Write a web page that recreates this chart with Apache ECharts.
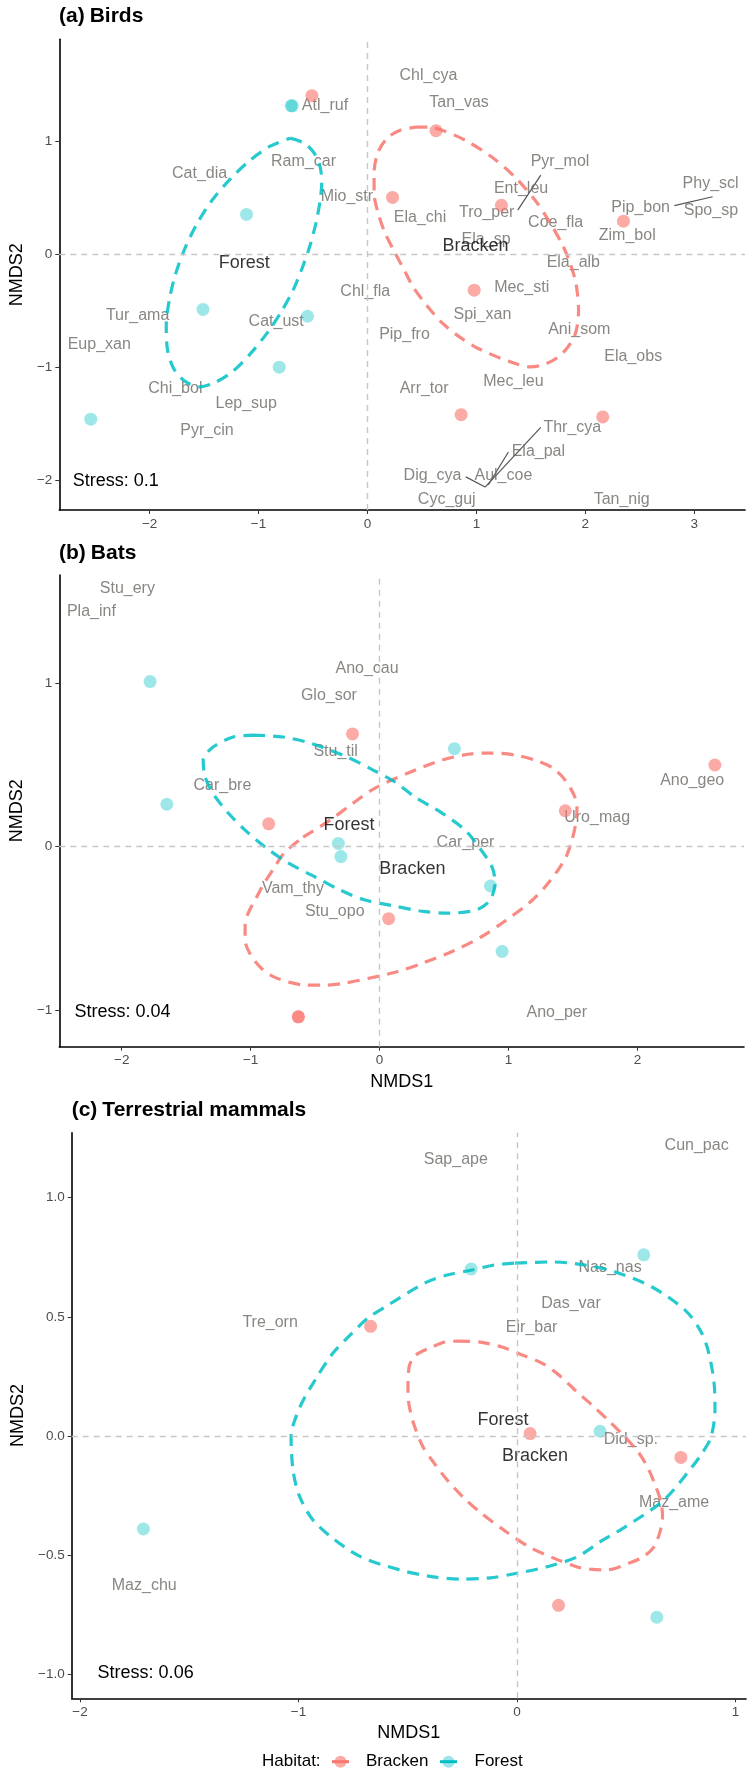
<!DOCTYPE html>
<html><head><meta charset="utf-8">
<script src="https://cdn.jsdelivr.net/npm/echarts@6/dist/echarts.min.js"></script>
<style>html,body{margin:0;padding:0;background:#fff}#c{width:750px;height:1773px}</style>
</head><body><div id="c"></div><script>
const FONT = '"Liberation Sans", Arial, Helvetica, sans-serif';
const COL = { Bracken: '#F8766D', Forest: '#00BFC4' };

// ---------- (a) Birds ----------
const birdsForest = [[-0.69,1.31],[-0.70,1.31],[-1.11,0.35],[-1.51,-0.49],[-0.55,-0.55],[-0.81,-1.00],[-2.54,-1.46]];
const birdsBracken = [[-0.51,1.40],[0.63,1.09],[0.23,0.50],[1.23,0.43],[2.35,0.29],[0.98,-0.32],[0.86,-1.42],[2.16,-1.44]];
const birdsEllForest = [[-0.709,1.024],[-0.581,0.980],[-0.489,0.891],[-0.434,0.768],[-0.420,0.627],[-0.434,0.477],[-0.471,0.282],[-0.526,0.079],[-0.599,-0.124],[-0.682,-0.318],[-0.792,-0.512],[-0.920,-0.697],[-1.076,-0.883],[-1.241,-1.041],[-1.407,-1.139],[-1.544,-1.174],[-1.682,-1.121],[-1.783,-1.006],[-1.838,-0.830],[-1.847,-0.627],[-1.819,-0.406],[-1.764,-0.185],[-1.682,0.035],[-1.572,0.256],[-1.425,0.477],[-1.260,0.662],[-1.076,0.830],[-0.893,0.953]];
const birdsEllBracken = [[0.438,1.121],[0.566,1.121],[0.686,1.094],[0.897,1.006],[1.144,0.856],[1.355,0.679],[1.538,0.477],[1.667,0.291],[1.786,0.088],[1.860,-0.079],[1.915,-0.265],[1.938,-0.494],[1.905,-0.715],[1.786,-0.883],[1.639,-0.971],[1.493,-0.997],[1.310,-0.953],[1.126,-0.883],[0.988,-0.821],[0.832,-0.724],[0.686,-0.609],[0.548,-0.459],[0.419,-0.291],[0.337,-0.141],[0.254,0.009],[0.162,0.185],[0.098,0.362],[0.061,0.538],[0.061,0.724],[0.098,0.900],[0.181,1.024],[0.300,1.094]];
const birdsSpecies = [['Atl_ruf',-0.39,1.315],['Ram_car',-0.587,0.821],['Cat_dia',-1.541,0.712],['Mio_str',-0.189,0.506],['Chl_cya',0.56,1.58],['Tan_vas',0.841,1.335],['Pyr_mol',1.768,0.815],['Ent_leu',1.41,0.574],['Phy_scl',3.15,0.624],['Ela_chi',0.483,0.324],['Tro_per',1.095,0.368],['Coe_fla',1.728,0.28],['Pip_bon',2.508,0.412],['Spo_sp',3.153,0.382],['Zim_bol',2.385,0.162],['Ela_sp',1.089,0.13],['Ela_alb',1.89,-0.077],['Chl_fla',-0.02,-0.334],['Mec_sti',1.416,-0.294],['Spi_xan',1.055,-0.532],['Pip_fro',0.34,-0.709],['Ani_som',1.945,-0.671],['Ela_obs',2.44,-0.906],['Mec_leu',1.34,-1.127],['Arr_tor',0.52,-1.19],['Thr_cya',1.881,-1.533],['Ela_pal',1.569,-1.745],['Dig_cya',0.597,-1.957],['Aul_coe',1.248,-1.957],['Cyc_guj',0.728,-2.171],['Tan_nig',2.334,-2.171],['Tur_ama',-2.11,-0.547],['Cat_ust',-0.838,-0.597],['Eup_xan',-2.462,-0.797],['Chi_bol',-1.764,-1.193],['Lep_sup',-1.113,-1.326],['Pyr_cin',-1.473,-1.562]];
const birdsSegments = [[[1.38,0.388],[1.591,0.697]],[[2.817,0.427],[3.169,0.506]],[[0.903,-1.97],[1.08,-2.06]],[[1.08,-2.06],[1.591,-1.533]],[[1.11,-2.04],[1.294,-1.75]]];
const birdsXTicks = [-2,-1,0,1,2,3];
const birdsYTicks = [-2,-1,0,1];

// ---------- (b) Bats ----------
const batsForest = [[-1.78,1.01],[-1.65,0.26],[0.58,0.60],[-0.32,0.02],[-0.30,-0.06],[0.86,-0.24],[0.95,-0.64]];
const batsBracken = [[-0.86,0.14],[-0.21,0.69],[2.60,0.50],[1.44,0.22],[0.07,-0.44],[-0.63,-1.04],[-0.63,-1.04]];
const batsEllForest = [[-0.981,0.683],[-0.748,0.671],[-0.539,0.634],[-0.252,0.549],[-0.050,0.469],[0.120,0.396],[0.275,0.304],[0.484,0.206],[0.663,0.102],[0.787,-0.020],[0.872,-0.124],[0.895,-0.216],[0.857,-0.326],[0.748,-0.387],[0.523,-0.406],[0.314,-0.393],[0.120,-0.363],[-0.112,-0.326],[-0.306,-0.265],[-0.500,-0.185],[-0.709,-0.099],[-0.888,-0.002],[-1.043,0.102],[-1.174,0.206],[-1.283,0.316],[-1.353,0.426],[-1.368,0.530],[-1.291,0.610],[-1.136,0.671]];
const batsEllBracken = [[-0.593,0.059],[-0.384,0.163],[-0.205,0.267],[-0.035,0.359],[0.221,0.451],[0.484,0.530],[0.702,0.567],[0.872,0.573],[1.050,0.561],[1.205,0.530],[1.345,0.481],[1.438,0.408],[1.508,0.316],[1.531,0.243],[1.523,0.151],[1.492,0.041],[1.446,-0.063],[1.384,-0.142],[1.283,-0.246],[1.159,-0.344],[0.973,-0.454],[0.787,-0.552],[0.570,-0.638],[0.337,-0.711],[0.128,-0.766],[-0.074,-0.803],[-0.267,-0.834],[-0.407,-0.846],[-0.578,-0.846],[-0.702,-0.828],[-0.833,-0.791],[-0.926,-0.736],[-1.004,-0.656],[-1.043,-0.571],[-1.043,-0.479],[-1.019,-0.406],[-0.957,-0.314],[-0.895,-0.222],[-0.818,-0.130],[-0.740,-0.038]];
const batsSpecies = [['Stu_ery',-1.956,1.581],['Pla_inf',-2.235,1.437],['Ano_cau',-0.097,1.091],['Glo_sor',-0.393,0.922],['Stu_til',-0.341,0.581],['Car_bre',-1.219,0.373],['Ano_geo',2.424,0.404],['Uro_mag',1.687,0.177],['Car_per',0.666,0.025],['Vam_thy',-0.672,-0.255],['Stu_opo',-0.348,-0.398],['Ano_per',1.374,-1.015]];
const batsXTicks = [-2,-1,0,1,2];
const batsYTicks = [-1,0,1];

// ---------- (c) Terrestrial mammals ----------
const mamForest = [[-0.21,0.70],[0.58,0.76],[0.38,0.02],[-1.71,-0.39],[0.64,-0.76]];
const mamBracken = [[-0.67,0.46],[0.06,0.01],[0.75,-0.09],[0.19,-0.71]];
const mamEllForest = [[-0.009,0.725],[0.160,0.730],[0.311,0.717],[0.449,0.688],[0.618,0.625],[0.769,0.528],[0.838,0.444],[0.874,0.361],[0.902,0.222],[0.906,0.109],[0.888,-0.004],[0.851,-0.067],[0.801,-0.130],[0.673,-0.268],[0.494,-0.382],[0.380,-0.444],[0.275,-0.507],[0.151,-0.545],[0.009,-0.574],[-0.124,-0.595],[-0.256,-0.600],[-0.384,-0.591],[-0.535,-0.562],[-0.714,-0.507],[-0.833,-0.436],[-0.934,-0.352],[-0.998,-0.247],[-1.025,-0.143],[-1.034,-0.004],[-0.993,0.122],[-0.924,0.235],[-0.842,0.348],[-0.764,0.423],[-0.682,0.495],[-0.604,0.541],[-0.421,0.642],[-0.320,0.675],[-0.206,0.696],[-0.105,0.717]];
const mamEllBracken = [[-0.270,0.398],[-0.169,0.394],[-0.069,0.373],[0.023,0.340],[0.114,0.306],[0.197,0.252],[0.265,0.193],[0.343,0.130],[0.421,0.063],[0.494,-0.004],[0.558,-0.071],[0.604,-0.143],[0.636,-0.214],[0.659,-0.277],[0.666,-0.340],[0.654,-0.403],[0.627,-0.465],[0.577,-0.507],[0.517,-0.532],[0.407,-0.562],[0.334,-0.558],[0.275,-0.549],[0.165,-0.511],[0.055,-0.465],[-0.055,-0.398],[-0.165,-0.323],[-0.247,-0.256],[-0.320,-0.184],[-0.380,-0.113],[-0.430,-0.046],[-0.471,0.046],[-0.494,0.130],[-0.499,0.193],[-0.494,0.289],[-0.462,0.340],[-0.389,0.373],[-0.330,0.394]];
const mamSpecies = [['Tre_orn',-1.13,0.475],['Sap_ape',-0.28,1.16],['Cun_pac',0.822,1.217],['Nas_nas',0.426,0.706],['Das_var',0.247,0.556],['Eir_bar',0.067,0.454],['Did_sp.',0.521,-0.013],['Maz_ame',0.719,-0.28],['Maz_chu',-1.706,-0.628]];
const mamXTicks = [-2,-1,0,1];
const mamYTicks = [-1.0,-0.5,0.0,0.5,1.0];

const panels = [
  {title:'(a)', name:'Birds', forest:birdsForest, bracken:birdsBracken, ellF:birdsEllForest, ellB:birdsEllBracken, species:birdsSpecies, segs:birdsSegments, xt:birdsXTicks, yt:birdsYTicks, stress:'Stress: 0.1',
   grid:{left:59, top:39.3, width:686, height:470.7}, x:[-2.829,3.466], y:[-2.263,1.898], dec:0, xname:'', stressPos:[72.7,481], titlePos:[59,6], yGap:27},
  {title:'(b)', name:'Bats', forest:batsForest, bracken:batsBracken, ellF:batsEllForest, ellB:batsEllBracken, species:batsSpecies, segs:[], xt:batsXTicks, yt:batsYTicks, stress:'Stress: 0.04',
   grid:{left:59, top:575, width:685, height:471.7}, x:[-2.484,2.826], y:[-1.223,1.662], dec:0, xname:'NMDS1', stressPos:[74.5,1011.7], titlePos:[59,543], yGap:27},
  {title:'(c)', name:'Terrestrial mammals', forest:mamForest, bracken:mamBracken, ellF:mamEllForest, ellB:mamEllBracken, species:mamSpecies, segs:[], xt:mamXTicks, yt:mamYTicks, stress:'Stress: 0.06',
   grid:{left:71.7, top:1132.7, width:674.3, height:565.6}, x:[-2.038,1.048], y:[-1.10,1.272], dec:1, xname:'NMDS1', stressPos:[97.6,1673.3], titlePos:[71.7,1100], yGap:43}
];

function fmt(dec){ return v => { const s = Math.abs(v).toFixed(dec); return v < 0 ? '\u2212' + s : s; }; }
function centroid(pts){ let sx=0, sy=0; pts.forEach(p=>{sx+=p[0]; sy+=p[1];}); return [sx/pts.length, sy/pts.length]; }

const grids=[], xAxes=[], yAxes=[], series=[], titles=[], graphics=[];
panels.forEach((P,i)=>{
  grids.push(Object.assign({containLabel:false}, P.grid));
  const axisCommon = {
    type:'value', gridIndex:i, splitLine:{show:false},
    axisLine:{show:true, onZero:false, lineStyle:{color:'#000', width:1.6}},
    axisTick:{show:true, length:4, lineStyle:{color:'#333', width:1}},
    nameTextStyle:{color:'#000', fontSize:18, fontFamily:FONT}
  };
  xAxes.push(Object.assign({}, axisCommon, {
    min:P.x[0], max:P.x[1],
    axisTick:Object.assign({}, axisCommon.axisTick, {customValues:P.xt}),
    axisLabel:{customValues:P.xt, formatter:fmt(0), color:'#4d4d4d', fontSize:13.5, fontFamily:FONT, margin:7},
    name:P.xname, nameLocation:'middle', nameGap:26
  }));
  yAxes.push(Object.assign({}, axisCommon, {
    min:P.y[0], max:P.y[1],
    axisTick:Object.assign({}, axisCommon.axisTick, {customValues:P.yt}),
    axisLabel:{customValues:P.yt, formatter:fmt(P.dec), color:'#4d4d4d', fontSize:13.5, fontFamily:FONT, margin:7},
    name:'NMDS2', nameLocation:'middle', nameRotate:90, nameGap:P.yGap
  }));
  const ax = {xAxisIndex:i, yAxisIndex:i};
  // reference lines at 0
  series.push(Object.assign({type:'scatter', z:0, silent:true, data:[],
    markLine:{silent:true, symbol:['none','none'], animation:false, label:{show:false},
      lineStyle:{type:[6,5], color:'#c6c6c6', width:1.4}, data:[{xAxis:0},{yAxis:0}]}}, ax));
  // species labels
  series.push(Object.assign({type:'scatter', z:1, silent:true, symbolSize:1, itemStyle:{color:'rgba(0,0,0,0)'},
    data:P.species.map(d=>({name:d[0], value:[d[1],d[2]]})),
    label:{show:true, position:'inside', formatter:'{b}', color:'#6b6863', fontSize:16, fontFamily:FONT}}, ax));
  // connector segments
  P.segs.forEach(sg=>{
    series.push(Object.assign({type:'line', z:1, silent:true, symbol:'none', data:sg,
      lineStyle:{color:'#555', width:1.2}}, ax));
  });
  // points
  series.push(Object.assign({type:'scatter', name:'Forest', z:2, symbolSize:13,
    itemStyle:{color:COL.Forest, opacity:0.38}, data:P.forest}, ax));
  series.push(Object.assign({type:'scatter', name:'Bracken', z:2, symbolSize:13,
    itemStyle:{color:COL.Bracken, opacity:0.62}, data:P.bracken}, ax));
  // ellipses
  [[P.ellB, COL.Bracken],[P.ellF, COL.Forest]].forEach(([e,c])=>{
    series.push(Object.assign({type:'line', z:3, silent:true, symbol:'none', smooth:0.3,
      data:e.concat([e[0]]),
      lineStyle:{color:c, width:3.2, type:[12,8], opacity:0.85}}, ax));
  });
  // group labels at centroids
  series.push(Object.assign({type:'scatter', z:4, silent:true, symbolSize:1, itemStyle:{color:'rgba(0,0,0,0)'},
    data:[{name:'Forest', value:centroid(P.forest)},{name:'Bracken', value:centroid(P.bracken)}],
    label:{show:true, position:'inside', formatter:'{b}', color:'#000', fontSize:18, fontFamily:FONT}}, ax));
  titles.push({text:'{b|'+P.title+'} {n|'+P.name+'}', left:P.titlePos[0], top:P.titlePos[1], padding:0,
    textStyle:{rich:{b:{fontWeight:'bold', fontSize:21, fontFamily:FONT, color:'#000'}, n:{fontSize:21, fontFamily:FONT, color:'#000'}}}});
  graphics.push({type:'text', x:P.stressPos[0], y:P.stressPos[1],
    style:{text:P.stress, fill:'#000', fontSize:18, fontFamily:FONT, verticalAlign:'middle', align:'left'}});
});

// legend at bottom
const LY = 1761.7;
graphics.push({type:'text', x:262, y:LY, style:{text:'Habitat:', fill:'#000', fontSize:17, fontFamily:FONT, verticalAlign:'middle'}});
[['Bracken',332,366],['Forest',440,474.5]].forEach(([nm,x0,tx])=>{
  graphics.push({type:'line', shape:{x1:x0, y1:LY, x2:x0+17, y2:LY}, style:{stroke:COL[nm], lineWidth:3}});
  graphics.push({type:'circle', shape:{cx:x0+8.5, cy:LY, r:6}, style:{fill:COL[nm], opacity:nm==='Forest'?0.4:0.62}});
  graphics.push({type:'text', x:tx, y:LY, style:{text:nm, fill:'#000', fontSize:17, fontFamily:FONT, verticalAlign:'middle'}});
});

const chart = echarts.init(document.getElementById('c'), null, {renderer:'canvas'});
chart.setOption({
  animation:false, backgroundColor:'#fff',
  title:titles, grid:grids, xAxis:xAxes, yAxis:yAxes, series:series, graphic:graphics
});
</script></body></html>
